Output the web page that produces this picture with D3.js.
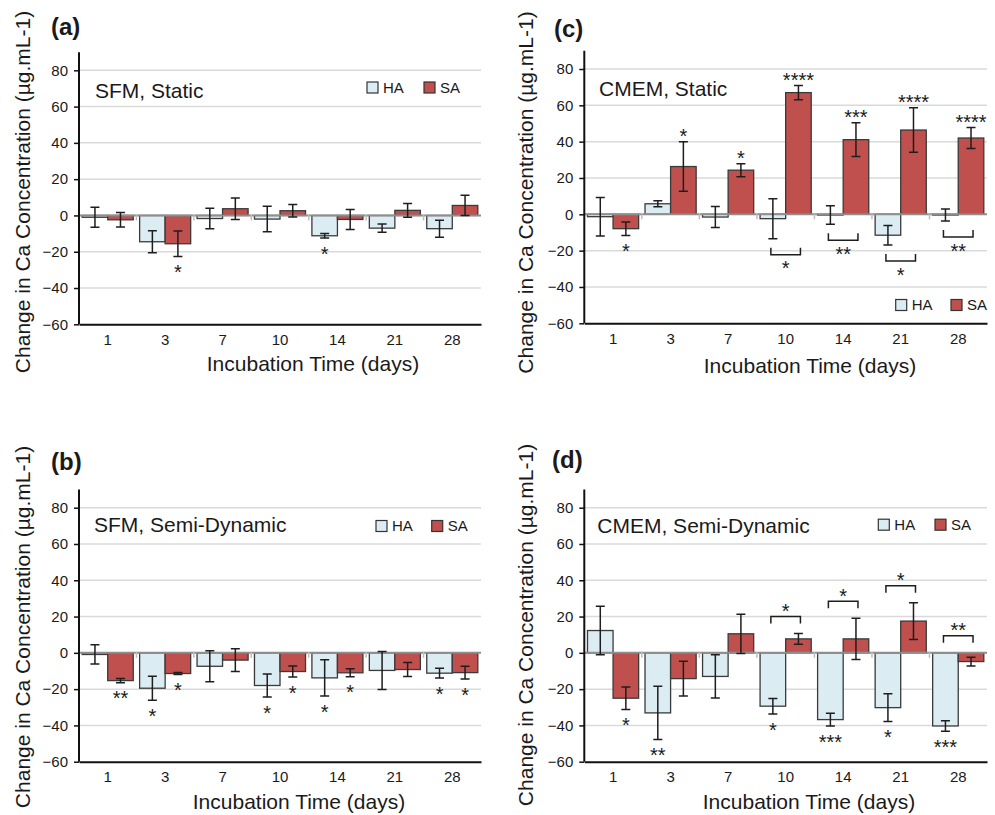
<!DOCTYPE html>
<html>
<head>
<meta charset="utf-8">
<script src="https://cdn.jsdelivr.net/npm/d3@7"></script>
<style>
  body { margin: 0; background: #fff; }
  svg { display: block; }
  text { font-family: "Liberation Sans", Arial, Helvetica, sans-serif; fill: #1a1a1a; }
</style>
</head>
<body>
<script>
// Categories and ticks
const days = ['1', '3', '7', '10', '14', '21', '28'];
const yTicks = [-60, -40, -20, 0, 20, 40, 60, 80];
const seriesNames = ['HA', 'SA'];

// (a) SFM, Static
const sfmStaticHA = [-1, -14.5, -1.7, -2, -11.2, -7, -7.3];
const sfmStaticHAErr = [5.5, 6, 5.7, 7, 1.3, 2.3, 4.7];
const sfmStaticSA = [-2.4, -15.6, 3.7, 2.6, -2.2, 2.8, 5.5];
const sfmStaticSAErr = [4, 7, 5.9, 3.5, 5.5, 3.8, 5.6];
const sfmStaticHASig = ['', '', '', '', '*', '', ''];
const sfmStaticSASig = ['', '*', '', '', '', '', ''];

// (b) SFM, Semi-Dynamic
const sfmDynHA = [-0.9, -19.5, -7.4, -18, -13.8, -9.7, -11.2];
const sfmDynHAErr = [5.3, 6.6, 8.5, 6.4, 10, 10.5, 2.7];
const sfmDynSA = [-15.3, -11.4, -4, -10.3, -11, -9.2, -10.9];
const sfmDynSAErr = [1.2, 0.6, 6.3, 3, 2.2, 3.9, 3.5];
const sfmDynHASig = ['', '*', '', '*', '*', '', '*'];
const sfmDynSASig = ['**', '*', '', '*', '*', '', '*'];

// (c) CMEM, Static
const cmemStaticHA = [-1.3, 5.8, -1.5, -2.4, -0.4, -11.5, -0.4];
const cmemStaticHAErr = [10.6, 1.6, 5.8, 11, 5.1, 5.4, 3.3];
const cmemStaticSA = [-7.9, 26.3, 24.3, 67, 41.1, 46.4, 42];
const cmemStaticSAErr = [3.7, 13.6, 3.6, 3.9, 9.3, 12.3, 5.8];
const cmemStaticHASig = ['', '', '', '', '', '', ''];
const cmemStaticSASig = ['*', '*', '*', '****', '***', '****', '****'];
const cmemStaticPairSig = ['', '', '', '*', '**', '*', '**'];

// (d) CMEM, Semi-Dynamic
const cmemDynHA = [12.3, -33.1, -13, -29.4, -36.8, -30.2, -40.3];
const cmemDynHAErr = [13.4, 14.7, 11.9, 4.3, 3.5, 7.6, 2.9];
const cmemDynSA = [-25, -14.2, 10.5, 7.7, 7.7, 17.5, -4.8];
const cmemDynSAErr = [6.2, 9.6, 10.8, 3, 11.4, 10.1, 2.4];
const cmemDynHASig = ['', '**', '', '*', '***', '*', '***'];
const cmemDynSASig = ['*', '', '', '', '', '', ''];
const cmemDynPairSig = ['', '', '', '*', '*', '*', '**'];

const colors = { HA: '#dbecf2', SA: '#c0504d' };

const width = 995;
const height = 815;
const starSize = 20;          // px
const starLift = starSize * 0.58; // asterisk centre sits this far above baseline

const svg = d3.select('body')
  .append('svg')
  .attr('width', width)
  .attr('height', height);

// panel content + where it sits on the page
const panels = [
  {
    label: '(a)', title: 'SFM, Static',
    ha: sfmStaticHA, haErr: sfmStaticHAErr, sa: sfmStaticSA, saErr: sfmStaticSAErr,
    haSig: sfmStaticHASig, saSig: sfmStaticSASig, pairSig: null,
    left: 79, right: 481, yMin: 324.3, y80: 70.3,
    labelX: 51, labelY: 35, titleX: 95, titleY: 97.7,
    yTitleX: 30, yTitleY: 192, xTitleX: 313, xTitleY: 370.5,
    legX: [367, 424], legY: 87.5
  },
  {
    label: '(b)', title: 'SFM, Semi-Dynamic',
    ha: sfmDynHA, haErr: sfmDynHAErr, sa: sfmDynSA, saErr: sfmDynSAErr,
    haSig: sfmDynHASig, saSig: sfmDynSASig, pairSig: null,
    left: 79, right: 481, yMin: 761.7, y80: 507.7,
    labelX: 51, labelY: 470, titleX: 94, titleY: 531.7,
    yTitleX: 30, yTitleY: 627, xTitleX: 299, xTitleY: 809,
    legX: [376, 431.7], legY: 526
  },
  {
    label: '(c)', title: 'CMEM, Static',
    ha: cmemStaticHA, haErr: cmemStaticHAErr, sa: cmemStaticSA, saErr: cmemStaticSAErr,
    haSig: cmemStaticHASig, saSig: cmemStaticSASig, pairSig: cmemStaticPairSig, bracketSide: 'below',
    left: 584.3, right: 987, yMin: 323.3, y80: 69,
    labelX: 554, labelY: 36.7, titleX: 599, titleY: 95.7,
    yTitleX: 533, yTitleY: 192.5, xTitleX: 810, xTitleY: 372.7,
    legX: [895.7, 951], legY: 305
  },
  {
    label: '(d)', title: 'CMEM, Semi-Dynamic',
    ha: cmemDynHA, haErr: cmemDynHAErr, sa: cmemDynSA, saErr: cmemDynSAErr,
    haSig: cmemDynHASig, saSig: cmemDynSASig, pairSig: cmemDynPairSig, bracketSide: 'above',
    left: 584.3, right: 987, yMin: 761.7, y80: 507.7,
    labelX: 552, labelY: 468.3, titleX: 597.3, titleY: 532.7,
    yTitleX: 533, yTitleY: 625, xTitleX: 809, xTitleY: 809,
    legX: [878.3, 935], legY: 524.7
  }
];

panels.forEach(drawPanel);

function drawPanel(p) {
  const g = svg.append('g');

  const y = d3.scaleLinear().domain([-60, 80]).range([p.yMin, p.y80]);
  const x = d3.scaleBand().domain(days).range([p.left, p.right]).padding(0);
  const xInner = d3.scaleBand().domain(seriesNames).range([0, x.bandwidth()])
    .paddingInner(0).paddingOuter(0.125);

  // gridlines
  g.append('g')
    .selectAll('line')
    .data(yTicks.filter(t => t !== 0 && t !== -60))
    .join('line')
    .attr('x1', p.left).attr('x2', p.right)
    .attr('y1', d => y(d)).attr('y2', d => y(d))
    .attr('stroke', '#dadada')
    .attr('stroke-width', 1.5);

  // rows of bars
  const rows = days.map((d, i) => ({
    day: d,
    bars: [
      { s: 'HA', v: p.ha[i], e: p.haErr[i], sig: p.haSig[i] },
      { s: 'SA', v: p.sa[i], e: p.saErr[i], sig: p.saSig[i] }
    ],
    pair: p.pairSig ? p.pairSig[i] : ''
  }));
  const flat = rows.flatMap(r => r.bars.map(b => Object.assign({ day: r.day }, b)));
  const cx = b => x(b.day) + xInner(b.s) + xInner.bandwidth() / 2;

  g.append('g')
    .selectAll('rect')
    .data(flat)
    .join('rect')
    .attr('x', b => x(b.day) + xInner(b.s))
    .attr('y', b => Math.min(y(b.v), y(0)))
    .attr('width', xInner.bandwidth())
    .attr('height', b => Math.abs(y(b.v) - y(0)))
    .attr('fill', b => colors[b.s])
    .attr('stroke', '#3a3a3a')
    .attr('stroke-width', 1.3);

  // zero line with small category ticks
  g.append('line')
    .attr('x1', p.left).attr('x2', p.right)
    .attr('y1', y(0)).attr('y2', y(0))
    .attr('stroke', '#8e8e8e')
    .attr('stroke-width', 2);
  g.append('g')
    .selectAll('line')
    .data(days.slice(1))
    .join('line')
    .attr('x1', d => x(d)).attr('x2', d => x(d))
    .attr('y1', y(0) - 1).attr('y2', y(0) + 5)
    .attr('stroke', '#bdbdbd')
    .attr('stroke-width', 1.5);

  // error bars
  const err = g.append('g')
    .attr('stroke', '#1e1e1e')
    .attr('stroke-width', 1.5)
    .attr('fill', 'none');
  err.selectAll('path')
    .data(flat)
    .join('path')
    .attr('d', b => {
      const c = cx(b), lo = y(b.v - b.e), hi = y(b.v + b.e), w = 4.5;
      return `M${c},${lo}V${hi}M${c - w},${lo}H${c + w}M${c - w},${hi}H${c + w}`;
    });

  // stars on single bars (beyond the error bar end)
  g.append('g')
    .selectAll('text')
    .data(flat.filter(b => b.sig))
    .join('text')
    .attr('x', cx)
    .attr('y', b => b.v < 0 ? y(b.v - b.e) + 11 + starLift : y(b.v + b.e) - 10 + starLift)
    .attr('text-anchor', 'middle')
    .style('font-size', starSize + 'px')
    .text(b => b.sig);

  // brackets between HA and SA
  if (p.pairSig) {
    const br = g.append('g');
    rows.filter(r => r.pair).forEach(r => {
      const [ha, sa] = r.bars.map(b => Object.assign({ day: r.day }, b));
      const x1 = cx(ha), x2 = cx(sa);
      let yl, ys;
      if (p.bracketSide === 'below') {
        yl = Math.max(y(0), y(ha.v - ha.e), y(sa.v - sa.e)) + 16;
        br.append('path')
          .attr('d', `M${x1 - 2},${yl - 7}V${yl}H${x2 + 2}V${yl - 7}`)
          .attr('fill', 'none').attr('stroke', '#1e1e1e').attr('stroke-width', 1.5);
        ys = yl + 9;
      } else {
        yl = Math.min(y(0), y(ha.v + ha.e), y(sa.v + sa.e)) - 17;
        br.append('path')
          .attr('d', `M${x1 - 2},${yl + 7}V${yl}H${x2 + 2}V${yl + 7}`)
          .attr('fill', 'none').attr('stroke', '#1e1e1e').attr('stroke-width', 1.5);
        ys = yl - 10;
      }
      br.append('text')
        .attr('x', (x1 + x2) / 2)
        .attr('y', ys + starLift)
        .attr('text-anchor', 'middle')
        .style('font-size', starSize + 'px')
        .text(r.pair);
    });
  }

  // axes
  const yAxis = d3.axisLeft(y).tickValues(yTicks).tickSize(5).tickSizeOuter(0).tickPadding(6);
  const ya = g.append('g')
    .attr('transform', `translate(${p.left},0)`)
    .call(yAxis);
  ya.select('.domain').remove();
  ya.selectAll('line').attr('stroke', '#111').attr('stroke-width', 1.5);
  ya.selectAll('text').style('font-size', '15px').attr('fill', '#1a1a1a')
    .style('font-family', '"Liberation Sans", Arial, sans-serif');
  g.append('line')
    .attr('x1', p.left).attr('x2', p.left)
    .attr('y1', y(90)).attr('y2', y(-60))
    .attr('stroke', '#111').attr('stroke-width', 2);

  const xa = g.append('g')
    .attr('transform', `translate(0,${y(-60)})`)
    .call(d3.axisBottom(x).tickSize(0).tickSizeOuter(0).tickPadding(10));
  xa.select('.domain').attr('stroke', '#111').attr('stroke-width', 2);
  xa.selectAll('text').style('font-size', '15px').attr('fill', '#1a1a1a')
    .style('font-family', '"Liberation Sans", Arial, sans-serif');

  // titles and labels
  g.append('text')
    .attr('x', p.labelX).attr('y', p.labelY)
    .style('font-size', '24px').style('font-weight', 'bold')
    .text(p.label);

  g.append('text')
    .attr('x', p.titleX).attr('y', p.titleY)
    .style('font-size', '21px')
    .text(p.title);

  g.append('text')
    .attr('transform', `translate(${p.yTitleX},${p.yTitleY}) rotate(-90)`)
    .attr('text-anchor', 'middle')
    .style('font-size', '21px')
    .text('Change in Ca Concentration (µg.mL-1)');

  g.append('text')
    .attr('x', p.xTitleX).attr('y', p.xTitleY)
    .attr('text-anchor', 'middle')
    .style('font-size', '21px')
    .text('Incubation Time (days)');

  // legend
  const leg = g.append('g')
    .selectAll('g')
    .data(seriesNames)
    .join('g')
    .attr('transform', (d, i) => `translate(${p.legX[i]},${p.legY})`);
  leg.append('rect')
    .attr('x', 0).attr('y', -5.5)
    .attr('width', 11).attr('height', 11)
    .attr('fill', d => colors[d])
    .attr('stroke', '#333').attr('stroke-width', 1.2);
  leg.append('text')
    .attr('x', 16).attr('y', 5.4)
    .style('font-size', '15px')
    .text(d => d);
}
</script>
</body>
</html>
